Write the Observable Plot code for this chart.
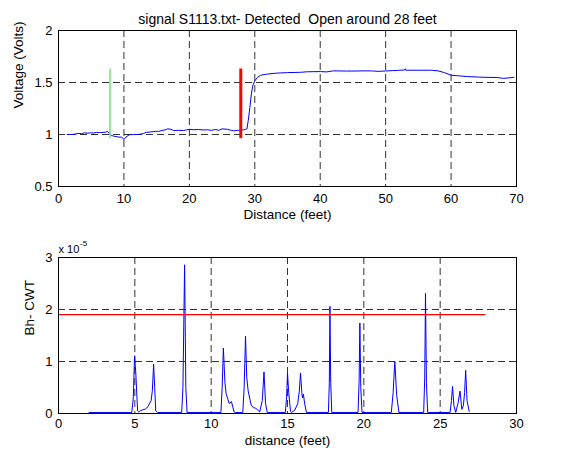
<!DOCTYPE html>
<html>
<head>
<meta charset="utf-8">
<script src="https://cdn.jsdelivr.net/npm/d3@7"></script>
<script src="https://cdn.jsdelivr.net/npm/@observablehq/plot@0.6"></script>
<style>
  html, body { margin: 0; padding: 0; background: #fff; }
  #wrap { position: relative; width: 564px; height: 455px; background: #fff; }
  #wrap > div, #wrap > svg { position: absolute; left: 0; }
</style>
</head>
<body>
<div id="wrap"></div>
<script>
// ---------- Top panel data ----------
const titleTop = "signal S1113.txt- Detected  Open around 28 feet";
const distTop = [1.33,2.1,2.6,3.0,3.5,4.0,4.5,4.9,5.4,5.8,6.3,6.8,7.2,7.5,7.8,8.1,8.4,8.8,9.2,9.6,9.85,10.0,10.3,10.8,11.5,12.0,12.5,13.0,13.4,14.0,14.8,15.3,15.8,16.3,16.7,17.2,17.6,18.3,19.1,19.6,20.0,20.7,21.4,22.1,22.8,23.4,24.0,24.5,25.0,25.8,26.4,26.8,27.3,27.8,28.3,28.6,28.8,29.0,29.25,29.5,29.7,30.0,30.4,30.9,31.8,33.3,35,37,38,40,41,42,44,45,47,48,49,50,51,52,52.9,53.0,53.1,55,57,58,59,60,61,62.5,64,65,67,68,69,69.6];
const voltTop = [1.00,1.00,1.005,1.01,1.008,1.016,1.012,1.016,1.014,1.02,1.017,1.02,1.022,1.03,1.006,0.99,0.985,0.98,0.975,0.975,0.965,0.952,0.975,0.997,1.0,1.0,1.003,1.01,1.02,1.024,1.03,1.03,1.038,1.045,1.054,1.05,1.038,1.04,1.038,1.045,1.05,1.046,1.048,1.044,1.045,1.04,1.048,1.04,1.054,1.05,1.04,1.035,1.04,1.04,1.045,1.05,1.054,1.134,1.26,1.40,1.47,1.516,1.548,1.57,1.58,1.59,1.595,1.598,1.603,1.605,1.602,1.612,1.61,1.61,1.612,1.611,1.607,1.611,1.614,1.617,1.62,1.632,1.618,1.618,1.618,1.612,1.595,1.57,1.565,1.557,1.553,1.55,1.548,1.54,1.545,1.55];
const markerDist = [7.86, 27.86];
const markerColor = ["#66ee66", "#ff0000"];
const markerWidth = [1.5, 3];
const markerLow = 0.96, markerHigh = 1.63;
const xTicksTop = [0,10,20,30,40,50,60,70];
const yTicksTop = [0.5,1,1.5,2];
const xLabelTop = "Distance (feet)";
const yLabelTop = "Voltage (Volts)";

// ---------- Bottom panel data (values in units of 1e-5) ----------
const distBot = [2.0,4.8,4.9,4.98,5.06,5.18,5.25,5.35,5.5,5.66,5.86,6.07,6.15,6.23,6.3,6.37,6.48,8.07,8.15,8.26,8.34,8.42,10.64,10.72,10.8,10.9,10.98,11.1,11.19,11.33,11.42,11.5,11.6,12.07,12.16,12.25,12.33,12.42,12.62,12.8,12.93,13.18,13.35,13.46,13.56,13.67,14.86,14.94,15.0,15.08,15.2,15.26,15.47,15.67,15.78,15.85,15.94,15.98,16.04,16.12,16.24,17.68,17.74,17.78,17.83,17.9,19.62,19.69,19.74,19.8,19.88,21.8,21.92,22.03,22.15,22.3,23.92,23.99,24.04,24.1,24.18,25.65,25.74,25.81,25.9,26.02,26.17,26.3,26.42,26.52,26.6,26.67,26.76,26.9];
const cwtBot = [0.02,0.02,0.3,1.11,0.8,0.05,0.03,0.05,0.07,0.08,0.13,0.25,0.45,0.95,0.5,0.05,0.02,0.02,0.5,2.86,0.5,0.02,0.02,0.5,1.26,0.6,0.38,0.27,0.19,0.23,0.12,0.03,0.02,0.02,0.5,1.49,0.7,0.44,0.16,0.11,0.1,0.03,0.25,0.8,0.2,0.02,0.02,0.3,0.78,0.4,0.04,0.02,0.06,0.19,0.45,0.78,0.4,0.3,0.37,0.2,0.02,0.02,0.6,2.06,0.6,0.02,0.02,0.6,1.74,0.5,0.02,0.02,0.4,1.0,0.35,0.02,0.02,0.7,2.31,0.6,0.02,0.02,0.25,0.52,0.15,0.02,0.2,0.43,0.08,0.15,0.4,0.83,0.25,0.04];
const threshold = 1.9;
const thresholdRange = [0, 28];
const xTicksBot = [0,5,10,15,20,25,30];
const yTicksBot = [0,1,2,3];
const xLabelBot = "distance (feet)";
const yLabelBot = "Bh- CWT";
const expText = "x 10";
const expPower = "-5";

// ---------- Build ----------
const font = "'Liberation Sans', Arial, Helvetica, sans-serif";
const gridStyle = {stroke: "#333", strokeOpacity: 1, strokeWidth: 1, strokeDasharray: "7,4"};
const topData = distTop.map((d, i) => ({d, v: voltTop[i]}));
const markers = markerDist.map((d, i) => ({d, c: markerColor[i], w: markerWidth[i]}));
const botData = distBot.map((d, i) => ({d, v: cwtBot[i]}));

const inner = (t) => t.slice(1, -1);

const chartTop = Plot.plot({
  width: 564, height: 230,
  marginLeft: 58, marginRight: 48, marginTop: 30, marginBottom: 44,
  style: {fontFamily: font, fontSize: "13px", background: "white", color: "black", overflow: "visible"},
  x: {domain: [0, 70]},
  y: {domain: [0.5, 2]},
  marks: [
    Plot.gridX(inner(xTicksTop), gridStyle),
    Plot.gridY(inner(yTicksTop), gridStyle),
    Plot.line(topData, {x: "d", y: "v", stroke: "#0000ff", strokeWidth: 1}),
    ...markers.map(m => Plot.ruleX([m], {x: "d", y1: markerLow, y2: markerHigh, stroke: m.c, strokeWidth: m.w})),
    Plot.frame({stroke: "black", strokeWidth: 1}),
    Plot.axisX(xTicksTop, {anchor: "bottom", tickSize: 0, tickPadding: 7, label: null, fontSize: 13}),
    Plot.axisY(yTicksTop, {anchor: "left", tickSize: 0, tickPadding: 6, label: null, fontSize: 13, tickFormat: d => String(d)}),
    Plot.text([xLabelTop], {text: d => d, frameAnchor: "bottom", dy: 32, fontSize: 13.5}),
    Plot.text([yLabelTop], {text: d => d, frameAnchor: "left", dx: -40, rotate: -90, fontSize: 13.5}),
    Plot.text([titleTop], {text: d => d, frameAnchor: "top", dy: -16, fontSize: 14})
  ]
});

const chartBot = Plot.plot({
  width: 564, height: 225,
  marginLeft: 58, marginRight: 48, marginTop: 27, marginBottom: 42,
  style: {fontFamily: font, fontSize: "13px", background: "white", color: "black", overflow: "visible"},
  x: {domain: [0, 30]},
  y: {domain: [0, 3]},
  marks: [
    Plot.gridX(inner(xTicksBot), gridStyle),
    Plot.gridY(inner(yTicksBot), gridStyle),
    Plot.line(botData, {x: "d", y: "v", stroke: "#0000ff", strokeWidth: 1}),
    Plot.ruleY([threshold], {x1: thresholdRange[0], x2: thresholdRange[1], stroke: "#ff0000", strokeWidth: 1.2}),
    Plot.frame({stroke: "black", strokeWidth: 1}),
    Plot.axisX(xTicksBot, {anchor: "bottom", tickSize: 0, tickPadding: 5, label: null, fontSize: 13, tickFormat: d => String(d)}),
    Plot.axisY(yTicksBot, {anchor: "left", tickSize: 0, tickPadding: 6, label: null, fontSize: 13, tickFormat: d => String(d)}),
    Plot.text([xLabelBot], {text: d => d, frameAnchor: "bottom", dy: 31, fontSize: 13.5}),
    Plot.text([yLabelBot], {text: d => d, frameAnchor: "left", dx: -29, rotate: -90, fontSize: 13.5}),
    Plot.text([expText], {text: d => d, frameAnchor: "top-left", dx: 0, dy: -12, textAnchor: "start", fontSize: 11}),
    Plot.text([expPower], {text: d => d, frameAnchor: "top-left", dx: 21.5, dy: -17.5, textAnchor: "start", fontSize: 8})
  ]
});

const wrap = document.getElementById("wrap");
chartTop.style.top = "0px";
chartBot.style.top = "230px";
wrap.appendChild(chartTop);
wrap.appendChild(chartBot);
</script>
</body>
</html>
